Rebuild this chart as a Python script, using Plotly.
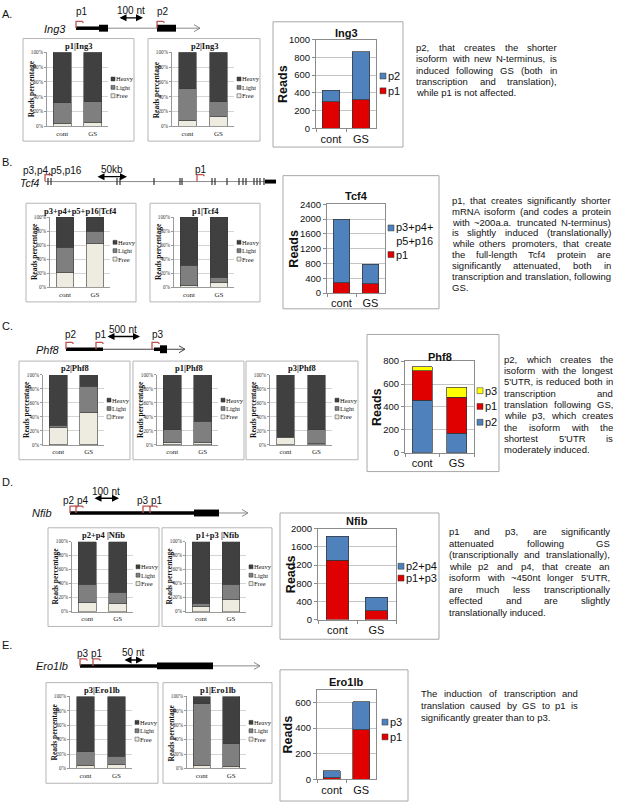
import plotly.graph_objects as go

W, H = 617, 807

conditions = ["cont", "GS"]
fractions = ["Free", "Light", "Heavy"]
frac_colors = ["#eeece1", "#7f7f7f", "#404040"]

# polysome fractions, % of reads -> [free], [light], [heavy], each for cont / GS
ing3_p1_pct = [[4, 5], [28, 28], [68, 67]]
ing3_p2_pct = [[8, 13], [43, 20], [49, 67]]
tcf4_p3_pct = [[21, 62], [36, 18], [43, 20]]
tcf4_p1_pct = [[3, 6], [28, 8], [69, 86]]
phf8_p2_pct = [[25, 47], [3, 37], [72, 16]]
phf8_p1_pct = [[4, 3], [18, 31], [78, 66]]
phf8_p3_pct = [[11, 2], [1, 20], [88, 78]]
nfib_p24_pct = [[13, 11], [26, 17], [61, 72]]
nfib_p13_pct = [[7, 17], [5, 22], [88, 61]]
ero1lb_p3_pct = [[4, 5], [19, 12], [77, 83]]
ero1lb_p1_pct = [[4, 3], [86, 31], [10, 66]]

# reads per promoter, cont / GS
ing3_p1 = [300, 320]
ing3_p2 = [130, 545]
tcf4_p1 = [280, 250]
tcf4_p3_16 = [1720, 530]
phf8_p2 = [460, 170]
phf8_p1 = [255, 315]
phf8_p3 = [35, 85]
nfib_p1p3 = [1310, 190]
nfib_p2p4 = [530, 300]
ero1lb_p1 = [12, 385]
ero1lb_p3 = [56, 220]

red, blue, yellow = "#e00000", "#4f81bd", "#ffff00"
prom_col = "#c0504d"
grey = "#8a8a8a"
sans = "Liberation Sans"
serif = "Liberation Serif"

fig = go.Figure()
axes, shapes, annos = {}, [], []


def fx(x):
    return x / W


def fy(y):
    return 1 - y / H


def text(x, y, s, size=10, family=sans, anchor="center", angle=0, color="#111"):
    annos.append(dict(x=fx(x), y=fy(y), xref="paper", yref="paper", text=s, showarrow=False,
                      xanchor=anchor, yanchor="middle", textangle=angle, borderpad=0, borderwidth=0,
                      font=dict(family=family, size=size, color=color)))


def rect(x0, y0, x1, y1, fill=None, line="#b0b0b0", lw=1):
    shapes.append(dict(type="rect", xref="paper", yref="paper", x0=fx(x0), x1=fx(x1),
                       y0=fy(y1), y1=fy(y0), fillcolor=fill, line=dict(color=line, width=lw)))


def path(points, color, lw=1):
    d = "M" + " L".join(f"{fx(x):.5f},{fy(y):.5f}" for x, y in points)
    shapes.append(dict(type="path", xref="paper", yref="paper", path=d, line=dict(color=color, width=lw)))


n_ax = [0]


def new_axes(x0, y0, x1, y1):
    n_ax[0] += 1
    s = "" if n_ax[0] == 1 else str(n_ax[0])
    xa = dict(domain=[fx(x0), fx(x1)], anchor="y" + s, fixedrange=True, tickangle=0)
    ya = dict(domain=[fy(y1), fy(y0)], anchor="x" + s, fixedrange=True)
    return s, xa, ya


def pct_chart(box, title, pct):
    bx0, by0, bx1, by1 = box
    x0, x1, y0, y1 = bx0 + 24, bx1 - 26, by0 + 14, by1 - 15
    s, xa, ya = new_axes(x0, y0, x1, y1)
    for name, vals, col in zip(fractions, pct, frac_colors):
        fig.add_trace(go.Bar(x=conditions, y=vals, name=name, marker_color=col,
                             marker_line=dict(color="#3a3a3a", width=0.6),
                             xaxis="x" + s, yaxis="y" + s, showlegend=False))
    xa.update(showline=True, linecolor="#9a9a9a", ticks="",
              tickfont=dict(family=serif, size=7, color="#222"))
    ya.update(range=[0, 100], dtick=20, ticksuffix="%", showgrid=True, gridcolor="#d4d4d4",
              showline=True, linecolor="#9a9a9a", ticks="outside", ticklen=2, tickcolor="#9a9a9a",
              tickfont=dict(family=serif, size=5.2, color="#333"), zeroline=False)
    axes["xaxis" + s], axes["yaxis" + s] = xa, ya
    rect(bx0, by0, bx1, by1, line="#b5b5b5")
    text((bx0 + bx1) / 2, by0 + 7.5, f"<b>{title}</b>", size=8.5, family=serif)
    text(bx0 + 8, (y0 + y1) / 2, "<b>Reads percentage</b>", size=7.5, family=serif, angle=-90)
    for i, k in enumerate([2, 1, 0]):
        ly = y0 + 0.36 * (y1 - y0) + i * 8.5
        rect(x1 + 3, ly - 2, x1 + 7, ly + 2, fill=frac_colors[k], line="#333", lw=0.5)
        text(x1 + 8, ly, fractions[k], size=6.5, family=serif, anchor="left")


def reads_chart(box, plot, title, title_y, series, names, labels, colors, ymax, dtick,
                lx, ly_list, reads_x):
    bx0, by0, bx1, by1 = box
    x0, y0, x1, y1 = plot
    s, xa, ya = new_axes(x0, y0, x1, y1)
    for vals, name, col in zip(series, names, colors):
        fig.add_trace(go.Bar(x=conditions, y=vals, name=name, marker_color=col,
                             marker_line=dict(color="#333", width=0.7),
                             xaxis="x" + s, yaxis="y" + s, showlegend=False))
    xa.update(showline=True, mirror=True, linecolor="#8c8c8c", ticks="outside", tickson="boundaries",
              ticklen=3, tickcolor="#8c8c8c", tickfont=dict(family=sans, size=11, color="#111"))
    ya.update(range=[0, ymax], dtick=dtick, showgrid=True, gridcolor="#c4c4c4", showline=True,
              mirror=True, linecolor="#8c8c8c", ticks="outside", ticklen=3, tickcolor="#8c8c8c",
              tickfont=dict(family=sans, size=9.5, color="#111"), zeroline=False)
    axes["xaxis" + s], axes["yaxis" + s] = xa, ya
    rect(bx0, by0, bx1, by1, line="#a8a8a8")
    text((x0 + x1) / 2, title_y, f"<b>{title}</b>", size=11)
    text(reads_x, (y0 + y1) / 2, "<b>Reads</b>", size=12.5, angle=-90)
    for lab, col, ly in zip(labels[::-1], colors[::-1], ly_list):
        sy = ly - 6 if "<br>" in lab else ly
        rect(lx, sy - 3, lx + 6, sy + 3, fill=col, line="#333", lw=0.5)
        text(lx + 7.5, ly, lab, size=11, anchor="left")


# Arial advance widths (1/1000 em) for justified paragraphs
AW = {c: 556 for c in "abdeghnopqu0123456789"}
AW.update({c: 500 for c in "cksvxyz"})
AW.update({"f": 278, "t": 278, "i": 222, "j": 222, "l": 222, "r": 333, "m": 833, "w": 722,
           " ": 278, ",": 278, ".": 278, "(": 333, ")": 333, "-": 333, "'": 191, "~": 584,
           "A": 667, "C": 722, "G": 778, "N": 722, "R": 722, "S": 667, "T": 611, "U": 722})


def tw(s, size):
    return sum(AW.get(c, 556) for c in s) * size / 1000


def paragraph(x0, x1, y, step, lines, size=9.5):
    for i, ln in enumerate(lines):
        yy = y + i * step
        words = ln.split()
        if i == len(lines) - 1 or len(words) == 1:
            text(x0, yy, ln, size=size, anchor="left")
            continue
        widths = [tw(w, size) for w in words]
        gap = (x1 - x0 - sum(widths)) / (len(words) - 1)
        xx = x0
        for j, (w, wd) in enumerate(zip(words, widths)):
            if j == len(words) - 1:
                text(x1, yy, w, size=size, anchor="right")
            else:
                text(xx, yy, w, size=size, anchor="left")
            xx += wd + gap


# gene diagram pieces
def seg(x0, x1, y, lw, color="#000"):
    path([(x0, y), (x1, y)], color, lw)


def block(x0, x1, y, h):
    rect(x0, y - h / 2, x1, y + h / 2, fill="#000", line="#000", lw=0)


def chevron(x, y, color):
    path([(x - 6, y - 3.5), (x, y), (x - 6, y + 3.5)], color, 1)


def promoter(x, y):
    path([(x, y), (x, y - 7), (x + 6, y - 7), (x + 7.5, y - 5.5)], prom_col, 1.3)


def scale_bar(x0, x1, y, label, ly):
    annos.append(dict(x=fx(x1), y=fy(y), ax=-(x1 - x0), ay=0, xref="paper", yref="paper", text="",
                      showarrow=True, arrowhead=2, arrowside="end+start", arrowsize=1,
                      arrowwidth=1.4, arrowcolor="#000", standoff=0, startstandoff=0))
    text((x0 + x1) / 2, ly, label, size=10)


# ---------------- A. Ing3
text(2, 8, "A.", size=11, anchor="left")
y = 22.5
seg(76, 200, y, 1, grey)
chevron(200, y, grey)
seg(76, 100, y, 3.5)
block(99, 108, y, 7)
block(157, 176, y, 7)
promoter(76, y)
promoter(157, y)
text(82, 6, "p1", size=10)
text(163, 6, "p2", size=10)
scale_bar(118, 143, 12, "100 nt", 5)
text(55, 23, "<i>Ing3</i>", size=11)
pct_chart((23, 33, 134, 137), "p1|Ing3", ing3_p1_pct)
pct_chart((148, 33, 260, 137), "p2|Ing3", ing3_p2_pct)
reads_chart((273, 16, 403, 143), (316, 34, 376, 124), "Ing3", 27, [ing3_p1, ing3_p2],
            ["p1", "p2"], ["p1", "p2"], [red, blue], 1000, 200, 380, [71, 86], 283)
paragraph(416, 557, 42, 11.5, [
    "p2, that creates the shorter",
    "isoform with new N-terminus, is",
    "induced following GS (both in",
    "transcription and translation),",
    "while p1 is not affected."])

# ---------------- B. Tcf4
text(2, 158, "B.", size=11, anchor="left")
y = 178
seg(45, 272, y, 1, grey)
for ex in [48, 51, 117, 120, 154, 180, 182, 212, 215, 227, 239, 243, 246, 254, 257, 260, 264]:
    path([(ex, y - 3.5), (ex, y + 3.5)], "#333", 1.2)
block(265, 276, y, 4)
promoter(45, y)
promoter(197, y)
text(52, 166.5, "p3,p4,p5,p16", size=10)
text(30, 179, "<i>Tcf4</i>", size=10.5)
scale_bar(96, 127, 173, "50kb", 166)
text(201, 166, "p1", size=10)
pct_chart((26, 200, 136, 300), "p3+p4+p5+p16|Tcf4", tcf4_p3_pct)
pct_chart((150, 200, 260, 300), "p1|Tcf4", tcf4_p1_pct)
reads_chart((283, 172, 439, 307), (327, 201, 385, 291), "Tcf4", 193, [tcf4_p1, tcf4_p3_16],
            ["p1", "p3+p4+p5+p16"], ["p1", "p3+p4+<br>p5+p16"], [red, blue], 2400, 400,
            388, [231, 252], 294)
paragraph(452, 611, 197, 11, [
    "p1, that creates significantly shorter",
    "mRNA isoform (and codes a protein",
    "with ~200a.a. truncated N-terminus)",
    "is slightly induced (translationally)",
    "while others promoters, that create",
    "the full-length Tcf4 protein are",
    "significantly attenuated, both in",
    "transcription and translation, following",
    "GS."])

# ---------------- C. Phf8
text(2, 324, "C.", size=11, anchor="left")
y = 348
seg(66, 185, y, 1, "#444")
chevron(185, y, "#444")
seg(66, 103, y, 3.5)
seg(154, 161, y, 3.5)
block(160, 167, y, 8)
promoter(66, y)
promoter(96, y)
promoter(152, y)
text(71, 333, "p2", size=10)
text(101, 333, "p1", size=10)
text(158, 333, "p3", size=10)
scale_bar(106, 140, 335, "500 nt", 328)
text(48, 349, "<i>Phf8</i>", size=11)
pct_chart((19, 360, 130, 460), "p2|Phf8", phf8_p2_pct)
pct_chart((133, 360, 244, 460), "p1|Phf8", phf8_p1_pct)
pct_chart((246, 360, 358, 460), "p3|Phf8", phf8_p3_pct)
reads_chart((367, 333, 499, 472), (405, 360, 474, 453), "Phf8", 356, [phf8_p2, phf8_p1, phf8_p3],
            ["p2", "p1", "p3"], ["p2", "p1", "p3"], [blue, red, yellow], 800, 200,
            477, [390, 406, 422], 377)
paragraph(504, 613, 358, 11.5, [
    "p2, which creates the",
    "isoform with the longest",
    "5'UTR, is reduced both in",
    "transcription and",
    "translation following GS,",
    "while p3, which creates",
    "the isoform with the",
    "shortest 5'UTR is",
    "moderately induced."])

# ---------------- D. Nfib
text(2, 483, "D.", size=11, anchor="left")
y = 514
seg(70, 248, y, 1, grey)
chevron(248, y, grey)
seg(70, 195, y, 3.5)
block(194, 219, y, 7)
for px_ in [70, 76, 143, 150]:
    promoter(px_, y)
text(75, 501, "p2 p4", size=10)
text(149, 501, "p3 p1", size=10)
scale_bar(93, 119, 499, "100 nt", 492)
text(42, 514, "<i>Nfib</i>", size=11)
pct_chart((48, 529, 159, 629), "p2+p4 |Nfib", nfib_p24_pct)
pct_chart((162, 529, 272, 629), "p1+p3 |Nfib", nfib_p13_pct)
reads_chart((280, 514, 439, 642), (318, 530, 396, 622), "Nfib", 522, [nfib_p1p3, nfib_p2p4],
            ["p1+p3", "p2+p4"], ["p1+p3", "p2+p4"], [red, blue], 2000, 400, 398, [568, 580], 291)
paragraph(449, 610, 533, 11.7, [
    "p1 and p3, are significantly",
    "attenuated following GS",
    "(transcriptionally and translationally),",
    "while p2 and p4, that create an",
    "isoform with ~450nt longer 5'UTR,",
    "are much less transcriptionally",
    "effected and are slightly",
    "translationally induced."])

# ---------------- E. Ero1lb
text(2, 648, "E.", size=11, anchor="left")
y = 669
seg(80, 260, y, 1, grey)
chevron(260, y, grey)
seg(80, 157, y, 3.5)
block(157, 213, y, 7)
promoter(80, y)
promoter(93, y)
text(90, 656, "p3 p1", size=10)
scale_bar(123, 143, 663, "50 nt", 655)
text(52, 669, "<i>Ero1lb</i>", size=11)
pct_chart((46, 686, 158, 788), "p3|Ero1lb", ero1lb_p3_pct)
pct_chart((163, 686, 272, 788), "p1|Ero1lb", ero1lb_p1_pct)
reads_chart((280, 673, 408, 806), (317, 693, 376, 784), "Ero1lb", 685, [ero1lb_p1, ero1lb_p3],
            ["p1", "p3"], ["p1", "p3"], [red, blue], 700, 200, 382, [726, 741], 288)
paragraph(421, 578, 697, 12, [
    "The induction of transcription and",
    "translation caused by GS to p1 is",
    "significantly greater than to p3."])

fig.update_layout(width=W, height=H, autosize=False, margin=dict(l=0, r=0, t=0, b=0),
                  paper_bgcolor="white", plot_bgcolor="white", barmode="stack", bargap=0.42,
                  showlegend=False, font=dict(family=sans), shapes=shapes, annotations=annos,
                  **axes)
# page body has a default 8px margin; drop it so the figure sits at the window origin
fig.write_html("out.html", config={"displayModeBar": False},
               post_script="document.body.style.margin='0';")
